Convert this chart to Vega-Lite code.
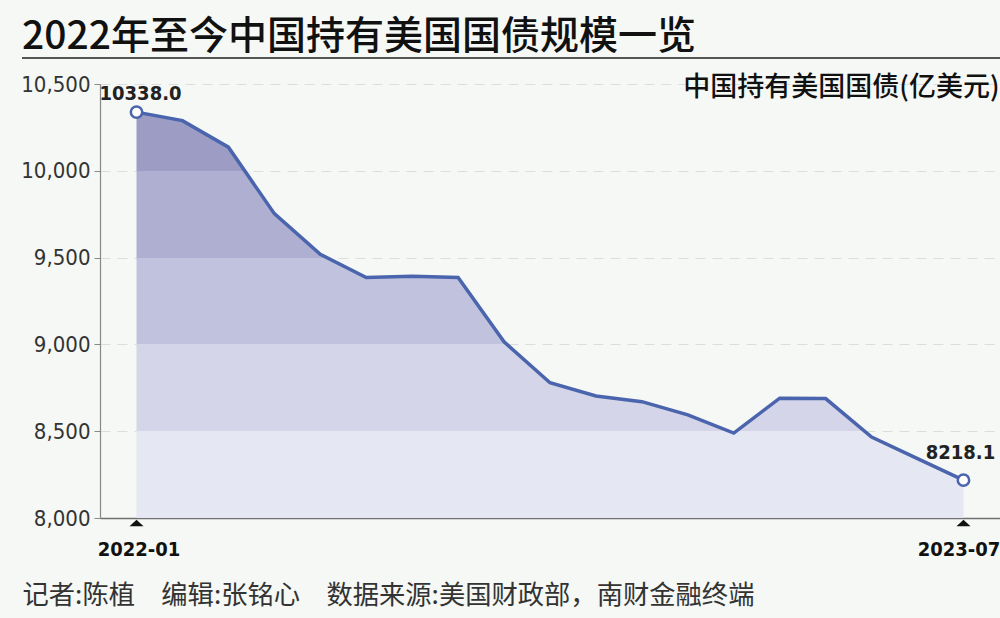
{
  "$schema": "https://vega.github.io/schema/vega-lite/v6.json",
  "autosize": "none",
  "width": 900,
  "height": 434,
  "padding": {"left": 100, "top": 84, "right": 0, "bottom": 100},
  "background": "#f5f8f4",
  "config": {"view": {"stroke": null}, "font": "DejaVu Sans Condensed, Liberation Sans, sans-serif"},
  "title": {
    "text": "2022年至今中国持有美国国债规模一览",
    "anchor": "start",
    "frame": "group",
    "orient": "top",
    "dx": -78,
    "offset": -31,
    "baseline": "alphabetic",
    "font": "Noto Sans CJK SC",
    "fontSize": 39,
    "fontWeight": 500,
    "color": "#111111"
  },
  "data": {
    "values": [
      {"month": "2022-01", "value": 10338.0},
      {"month": "2022-02", "value": 10289},
      {"month": "2022-03", "value": 10136},
      {"month": "2022-04", "value": 9753},
      {"month": "2022-05", "value": 9519},
      {"month": "2022-06", "value": 9385},
      {"month": "2022-07", "value": 9393},
      {"month": "2022-08", "value": 9385},
      {"month": "2022-09", "value": 9015},
      {"month": "2022-10", "value": 8779},
      {"month": "2022-11", "value": 8703},
      {"month": "2022-12", "value": 8670},
      {"month": "2023-01", "value": 8594},
      {"month": "2023-02", "value": 8489},
      {"month": "2023-03", "value": 8690},
      {"month": "2023-04", "value": 8688},
      {"month": "2023-05", "value": 8466},
      {"month": "2023-06", "value": 8342},
      {"month": "2023-07", "value": 8218.1}
    ]
  },
  "layer": [
    {
      "encoding": {
        "x": {
          "field": "month",
          "type": "ordinal",
          "sort": null,
          "scale": {"type": "point", "padding": 0.795},
          "axis": {
            "values": ["2022-01", "2023-07"],
            "labelAngle": 0,
            "ticks": false,
            "domainColor": "#707070",
            "domainWidth": 1.5,
            "labelFont": "DejaVu Sans Condensed, Liberation Sans, sans-serif",
            "labelFontSize": 20,
            "labelFontWeight": "bold",
            "labelColor": "#111111",
            "labelPadding": 21,
            "labelBaseline": "top",
            "labelOffset": {"condition": {"test": "datum.value == '2023-07'", "value": -5}, "value": 2},
            "grid": false,
            "title": "记者:陈植　编辑:张铭心　数据来源:美国财政部，南财金融终端",
            "titleFont": "Noto Sans CJK SC",
            "titleFontSize": 26.3,
            "titleFontWeight": "normal",
            "titleColor": "#333333",
            "titleAnchor": "start",
            "titleAlign": "left",
            "titleBaseline": "middle",
            "titleX": -78,
            "titleY": 77
          }
        },
        "y": {
          "field": "value",
          "type": "quantitative",
          "scale": {"domain": [8000, 10500], "nice": false, "zero": false},
          "axis": {
            "values": [8000, 8500, 9000, 9500, 10000, 10500],
            "format": ",d",
            "domainColor": "#888888",
            "domainWidth": 1.2,
            "tickColor": "#888888",
            "tickSize": 6,
            "labelFont": "DejaVu Sans Condensed, Liberation Sans, sans-serif",
            "labelFontSize": 22,
            "labelColor": "#333333",
            "labelPadding": 4,
            "grid": true,
            "gridColor": "#dcdedc",
            "gridDash": [10, 7],
            "gridWidth": 1.2,
            "title": "中国持有美国国债(亿美元)",
            "titleFont": "Noto Sans CJK SC",
            "titleFontSize": 27,
            "titleFontWeight": 500,
            "titleColor": "#111111",
            "titleAngle": 0,
            "titleAlign": "right",
            "titleBaseline": "middle",
            "titleX": 899,
            "titleY": 3
          }
        }
      },
      "layer": [
        {
          "mark": {
            "type": "area",
            "color": {
              "gradient": "linear",
              "x1": 0, "y1": 0, "x2": 0, "y2": 1,
              "stops": [
                {"offset": 0, "color": "#9c9cc4"},
                {"offset": 0.1446, "color": "#9c9cc4"},
                {"offset": 0.1446, "color": "#afafd1"},
                {"offset": 0.3584, "color": "#afafd1"},
                {"offset": 0.3584, "color": "#c1c2de"},
                {"offset": 0.5723, "color": "#c1c2de"},
                {"offset": 0.5723, "color": "#d4d5e8"},
                {"offset": 0.7861, "color": "#d4d5e8"},
                {"offset": 0.7861, "color": "#e5e7f2"},
                {"offset": 1, "color": "#e5e7f2"}
              ]
            }
          },
          "encoding": {"y2": {"datum": 8000}}
        },
        {
          "mark": {"type": "line", "color": "#4a64ad", "strokeWidth": 3.5}
        },
        {
          "transform": [{"filter": {"field": "month", "oneOf": ["2022-01", "2023-07"]}}],
          "mark": {"type": "point", "filled": true, "fill": "#ffffff", "stroke": "#4a64ad", "strokeWidth": 2.5, "size": 130, "shape": "circle", "opacity": 1}
        },
        {
          "transform": [{"filter": {"field": "month", "oneOf": ["2022-01", "2023-07"]}}],
          "mark": {"type": "point", "filled": true, "color": "#111111", "shape": "M-1,0.45L1,0.45L0,-0.45Z", "size": 196, "yOffset": 5, "opacity": 1},
          "encoding": {"y": {"datum": 8000}}
        },
        {
          "transform": [{"filter": {"field": "month", "equal": "2022-01"}}],
          "mark": {"type": "text", "font": "DejaVu Sans Condensed, Liberation Sans, sans-serif", "fontSize": 20, "fontWeight": "bold", "color": "#222222", "dy": -18, "dx": 4, "baseline": "middle"},
          "encoding": {"text": {"field": "value", "type": "quantitative", "format": ".1f"}}
        },
        {
          "transform": [{"filter": {"field": "month", "equal": "2023-07"}}],
          "mark": {"type": "text", "font": "DejaVu Sans Condensed, Liberation Sans, sans-serif", "fontSize": 20, "fontWeight": "bold", "color": "#222222", "dy": -27, "dx": -3, "baseline": "middle"},
          "encoding": {"text": {"field": "value", "type": "quantitative", "format": ".1f"}}
        }
      ]
    },
    {
      "mark": {"type": "rule", "color": "#555555", "strokeWidth": 2},
      "encoding": {
        "x": {"datum": 0, "type": "quantitative", "scale": {"domain": [0, 1], "range": [-78, 900]}, "axis": null},
        "x2": {"datum": 1},
        "y": {"datum": 10650, "type": "quantitative"}
      }
    }
  ],
  "resolve": {"scale": {"x": "independent"}}
}
